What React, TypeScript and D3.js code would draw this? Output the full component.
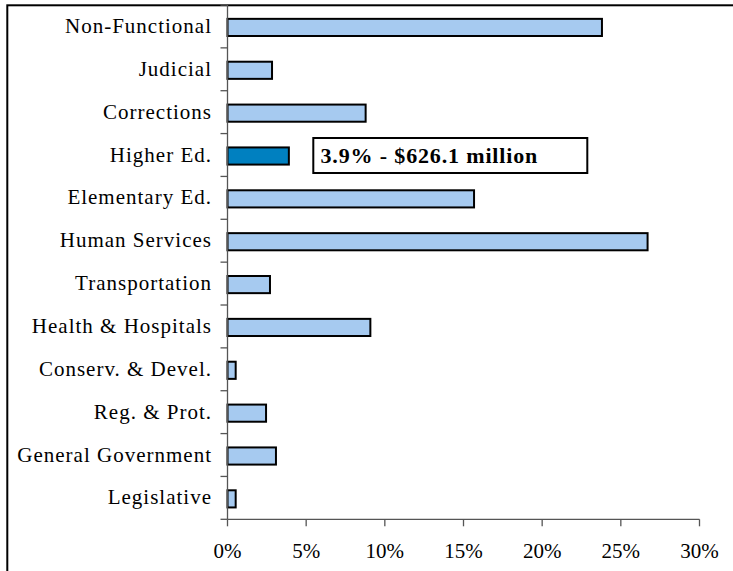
import React from "react";
import * as d3 from "d3";

const categories = [
  "Non-Functional",
  "Judicial",
  "Corrections",
  "Higher Ed.",
  "Elementary Ed.",
  "Human Services",
  "Transportation",
  "Health & Hospitals",
  "Conserv. & Devel.",
  "Reg. & Prot.",
  "General Government",
  "Legislative",
];
const values = [0.238, 0.0283, 0.0878, 0.039, 0.1567, 0.267, 0.027, 0.0908, 0.0052, 0.0245, 0.0308, 0.0052];
const highlighted = "Higher Ed.";
const annotation = "3.9% - $626.1 million";
const xTicks = [0, 0.05, 0.1, 0.15, 0.2, 0.25, 0.3];

const W = 733;
const H = 571;
const left = 227.5;
const right = 699.5;
const top = 5;
const bottom = 519.3;

export default function App() {
  const x = d3.scaleLinear().domain([0, 0.3]).range([left, right]);
  const y = d3.scaleBand<string>().domain(categories).range([top, bottom]).paddingInner(0.6).paddingOuter(0.3);
  const step = y.step();
  const fmt = d3.format(".0%");
  const font = "'Liberation Serif', 'Times New Roman', serif";
  const hiY = y(highlighted)! + y.bandwidth() / 2;

  return (
    <svg width={W} height={H} style={{ position: "absolute", left: 0, top: 0, background: "#fff" }}>
      {/* outer border */}
      <rect x={7.3} y={5.3} width={W + 10} height={H + 10} fill="none" stroke="#000" strokeWidth={2} />
      {/* bars */}
      {categories.map((c, i) => (
        <rect
          key={c}
          x={x(0)}
          y={y(c)! + 1}
          width={x(values[i]) - x(0)}
          height={y.bandwidth()}
          fill={c === highlighted ? "#0080C0" : "#A6CAF0"}
          stroke="#000"
          strokeWidth={2}
        />
      ))}
      {/* y axis */}
      <line x1={left} x2={left} y1={top} y2={bottom} stroke="#555" strokeWidth={1.3} />
      {d3.range(categories.length + 1).map((i) => (
        <line key={"yt" + i} x1={left - 7} x2={left} y1={top + i * step} y2={top + i * step} stroke="#555" strokeWidth={1.3} />
      ))}
      {categories.map((c) => (
        <text
          key={"l" + c}
          x={left - 15.5}
          y={y(c)! + y.bandwidth() / 2 + 6.5}
          textAnchor="end"
          fontFamily={font}
          fontSize={21}
          letterSpacing={1}
          fill="#000"
        >
          {c}
        </text>
      ))}
      {/* x axis */}
      <line x1={left} x2={right} y1={bottom} y2={bottom} stroke="#555" strokeWidth={1.3} />
      {xTicks.map((t) => (
        <g key={"xt" + t}>
          <line x1={x(t)} x2={x(t)} y1={bottom} y2={bottom + 7} stroke="#555" strokeWidth={1.3} />
          <text x={x(t)} y={558} textAnchor="middle" fontFamily={font} fontSize={21} fill="#000">
            {fmt(t)}
          </text>
        </g>
      ))}
      {/* annotation */}
      <rect x={313.3} y={hiY - 17} width={274} height={35} fill="#fff" stroke="#000" strokeWidth={2} />
      <text x={320.5} y={hiY + 7.5} fontFamily={font} fontSize={22} fontWeight="bold" letterSpacing={0.85} fill="#000">
        {annotation}
      </text>
    </svg>
  );
}
